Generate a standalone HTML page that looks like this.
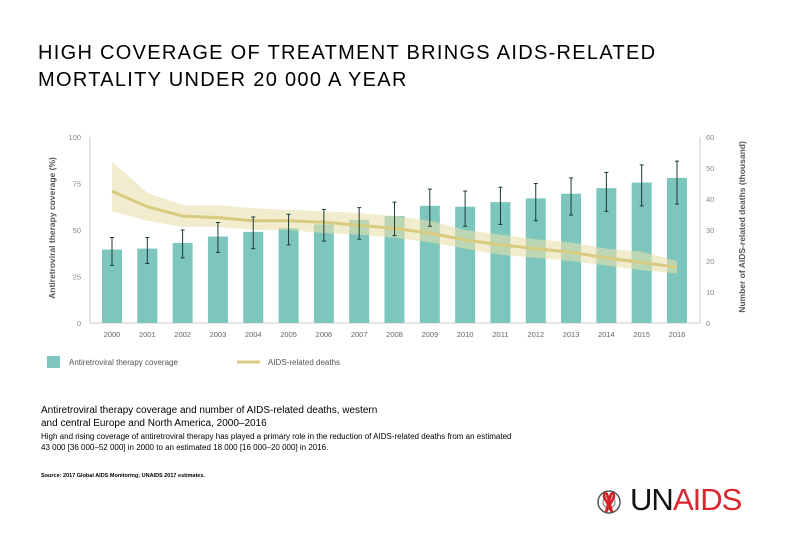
<!DOCTYPE html>
<html><head><meta charset="utf-8"><style>
body{margin:0;background:#fff;}
#root{position:relative;width:810px;height:540px;overflow:hidden;font-family:"Liberation Sans",sans-serif;background:#fff;}
.t{position:absolute;color:#000;white-space:nowrap;}
</style></head><body>
<div id="root">
<div class="t" style="left:38px;top:40px;font-size:20px;line-height:27px;letter-spacing:1.3px;">HIGH COVERAGE OF TREATMENT BRINGS AIDS-RELATED<br>MORTALITY UNDER 20 000 A YEAR</div>
<svg id="chart" width="810" height="400" style="position:absolute;left:0;top:0"></svg>
<div class="t" style="left:41px;top:404px;font-size:10px;line-height:13px;">Antiretroviral therapy coverage and number of AIDS-related deaths, western<br>and central Europe and North America, 2000–2016</div>
<div class="t" style="left:41px;top:431px;font-size:8px;line-height:11px;">High and rising coverage of antiretroviral therapy has played a primary role in the reduction of AIDS-related deaths from an estimated<br>43 000 [36 000–52 000] in 2000 to an estimated 18 000 [16 000–20 000] in 2016.</div>
<div class="t" style="left:41px;top:473px;font-size:5.5px;font-weight:bold;">Source: 2017 Global AIDS Monitoring; UNAIDS 2017 estimates.</div>
<div style="position:absolute;left:594px;top:486px;width:160px;height:32px;">
<svg width="32" height="30" style="position:absolute;left:0;top:2px"><circle cx="15" cy="14" r="11" fill="none" stroke="#555" stroke-width="1.5"/><circle cx="15" cy="14" r="6" fill="none" stroke="#777" stroke-width="1"/><path d="M12 24 L17 6 Q20 4 20 9 L12 24 M18 24 L13 6 Q10 4 10 9 Z" fill="none" stroke="#d32027" stroke-width="2.5"/></svg>
<span style="position:absolute;left:36px;top:-4px;font-size:31px;letter-spacing:-1px;color:#111;">UN</span><span style="position:absolute;left:79px;top:-4px;font-size:31px;letter-spacing:-1px;color:#d9262e;">AIDS</span>
</div>
</div>
<script>
const years=["2000","2001","2002","2003","2004","2005","2006","2007","2008","2009","2010","2011","2012","2013","2014","2015","2016"];
const coverage=[39.5,40,43,46.5,49,51,53,55.5,57.5,63,62.5,65,67,69.5,72.5,75.5,78];
const coverageLow=[31,32,35,38,40,42,44,45,47,52,52,53,55,58,60,63,64];
const coverageHigh=[46,46,50,54,57,58.5,61,62,65,72,71,73,75,78,81,85,87];
const deaths=[42.5,37.5,34.5,34,33,33,32.5,31.5,30.5,29,26.8,25.2,24,22.8,21,19.5,18];
const deathsLow=[36,33,31,31,30,30,29,28.5,27.5,26,24,22,21,20,18.5,17,16];
const deathsHigh=[52,42,38,38,37,36.5,36,35.5,34.5,33,30,28.5,27,26,24,23,20];
const leftTicks=[0,25,50,75,100];
const rightTicks=[0,10,20,30,40,50,60];

const svg=document.getElementById('chart');
const NS='http://www.w3.org/2000/svg';
const y0=323,y1=137,xL=90,xR=700;
const yL=v=>y0-(v/100)*(y0-y1);
const yR=v=>y0-(v/60)*(y0-y1);
const step=(677-112)/16;
const xC=i=>112+i*step;
function mk(t,a){const e=document.createElementNS(NS,t);for(const k in a)e.setAttribute(k,a[k]);svg.appendChild(e);return e;}
let e;
e=mk('line',{x1:xL,y1:y0,x2:xR,y2:y0,stroke:'#ccc','stroke-width':1});


e=mk('line',{x1:xL,y1:y1,x2:xL,y2:y0,stroke:'#ccc','stroke-width':1});


e=mk('line',{x1:xR,y1:y1,x2:xR,y2:y0,stroke:'#ccc','stroke-width':1});


leftTicks.forEach(v=>{const t=mk('text',{x:81,y:yL(v)+3,'text-anchor':'end','font-size':7.5,fill:'#888','font-family':'Liberation Sans'});t.textContent=v;

});
rightTicks.forEach(v=>{const t=mk('text',{x:706,y:yR(v)+3,'font-size':7.5,fill:'#888','font-family':'Liberation Sans'});t.textContent=v;

});
let t=mk('text',{transform:'translate(55,228) rotate(-90)','text-anchor':'middle','font-size':8.5,'font-weight':'bold',fill:'#555','font-family':'Liberation Sans'});t.textContent='Antiretroviral therapy coverage (%)';


t=mk('text',{transform:'translate(745,227) rotate(-90)','text-anchor':'middle','font-size':8.5,'font-weight':'bold',fill:'#555','font-family':'Liberation Sans'});t.textContent='Number of AIDS-related deaths (thousand)';


years.forEach((y,i)=>{
 const r=mk('rect',{x:xC(i)-10,y:yL(coverage[i]),width:20,height:y0-yL(coverage[i]),fill:'#7cc6bd'});
 
 
 const l=mk('text',{x:xC(i),y:337,'text-anchor':'middle','font-size':7.5,fill:'#666','font-family':'Liberation Sans'});l.textContent=y;
 
 
});
let up=deathsHigh.map((v,i)=>xC(i)+','+yR(v));
let lo=deathsLow.map((v,i)=>xC(i)+','+yR(v)).reverse();
e=mk('polygon',{points:up.concat(lo).join(' '),fill:'#e8dfab','fill-opacity':0.6});


e=mk('polyline',{points:deaths.map((v,i)=>xC(i)+','+yR(v)).join(' '),fill:'none',stroke:'#d8cb7f','stroke-width':3});


years.forEach((y,i)=>{
 const x=xC(i),a=yL(coverageHigh[i]),b=yL(coverageLow[i]);
 const g=mk('path',{d:`M${x},${a}V${b}M${x-2},${a}H${x+2}M${x-2},${b}H${x+2}`,stroke:'#1e3a34','stroke-width':1,fill:'none'});
 
 
});
e=mk('rect',{x:47,y:356,width:13,height:12,fill:'#7cc6bd'});


t=mk('text',{x:69,y:365,'font-size':8,fill:'#555','font-family':'Liberation Sans'});t.textContent='Antiretroviral therapy coverage';


e=mk('line',{x1:237,y1:362,x2:260,y2:362,stroke:'#d8cb7f','stroke-width':3});


t=mk('text',{x:268,y:365,'font-size':8,fill:'#555','font-family':'Liberation Sans'});t.textContent='AIDS-related deaths';


</script>
</body></html>
